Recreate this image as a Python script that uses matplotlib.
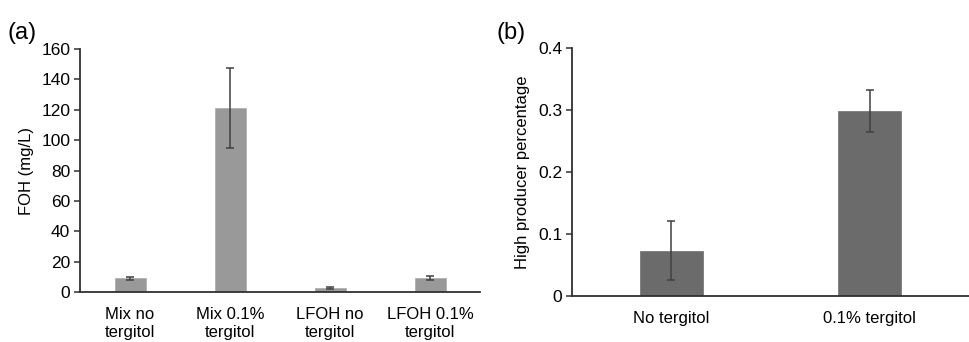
import numpy as np
import matplotlib
matplotlib.use("Agg")
import matplotlib.pyplot as plt

plt.rcParams['font.family'] = ['Liberation Sans', 'DejaVu Sans']

# panel (a) data
cats_a = ["Mix no\ntergitol", "Mix 0.1%\ntergitol", "LFOH no\ntergitol", "LFOH 0.1%\ntergitol"]
foh = [9.0, 121.3, 2.4, 9.0]
foh_err = [0.8, 26.5, 0.7, 1.3]

# panel (b) data
cats_b = ["No tergitol", "0.1% tergitol"]
high_pct = [0.073, 0.299]
high_err = [0.048, 0.034]

fig = plt.figure(figsize=(9.69, 3.42), dpi=100)
ax1 = fig.add_axes([0.0826, 0.146, 0.4128, 0.7105])
ax2 = fig.add_axes([0.5903, 0.1354, 0.4097, 0.7234])

def style(ax):
    for s in ['top', 'right']:
        ax.spines[s].set_visible(False)
    ax.spines['left'].set_color('#303030')
    ax.spines['bottom'].set_color('#303030')
    ax.spines['left'].set_linewidth(1.3)
    ax.spines['bottom'].set_linewidth(1.3)
    ax.tick_params(axis='y', length=4, width=1.1, color='#303030', labelsize=12.5, pad=3)
    ax.tick_params(axis='x', length=0, labelsize=12, pad=11)

x = np.arange(len(cats_a))
ax1.bar(x, foh, width=0.31, color='#999999', edgecolor='#b0b0b0', linewidth=0.6,
        yerr=foh_err, error_kw=dict(ecolor='#404040', elinewidth=1.1, capsize=3, capthick=1.1))
ax1.set_xlim(-0.5, 3.5)
ax1.set_ylim(0, 160)
ax1.set_yticks(range(0, 161, 20))
ax1.set_xticks(x)
ax1.set_xticklabels(cats_a, linespacing=1.2)
ax1.set_ylabel("FOH (mg/L)", fontsize=12, labelpad=5)
style(ax1)

xb = np.arange(len(cats_b))
ax2.bar(xb, high_pct, width=0.316, color='#6b6b6b', edgecolor='#7a7a7a', linewidth=0.6,
        yerr=high_err, error_kw=dict(ecolor='#404040', elinewidth=1.1, capsize=3, capthick=1.1))
ax2.set_xlim(-0.5, 1.5)
ax2.set_ylim(0, 0.4)
ax2.set_yticks([0, 0.1, 0.2, 0.3, 0.4])
ax2.set_yticklabels(["0", "0.1", "0.2", "0.3", "0.4"])
ax2.set_xticks(xb)
ax2.set_xticklabels(cats_b)
ax2.set_ylabel("High producer percentage", fontsize=12, labelpad=6)
style(ax2)

fig.text(0.008, 0.885, "(a)", fontsize=17)
fig.text(0.512, 0.885, "(b)", fontsize=17)

fig.savefig("out.png", dpi=100)
